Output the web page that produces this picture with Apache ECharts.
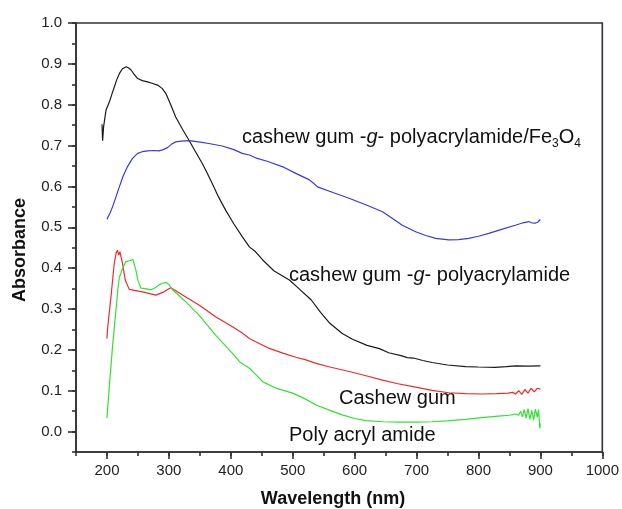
<!DOCTYPE html>
<html>
<head>
<meta charset="utf-8">
<script src="https://cdn.jsdelivr.net/npm/echarts@6/dist/echarts.min.js"></script>
<style>
  html, body { margin: 0; padding: 0; background: #fff; }
  #chart { width: 622px; height: 509px; }
</style>
</head>
<body>
<div id="chart"></div>
<script>
// UV-Vis absorbance spectra of four samples (wavelength in nm, absorbance)
const graftWl = [192, 193, 194.5, 198.5, 204, 208, 212, 216, 220, 225, 231, 235, 239, 244, 249.5, 257, 265.6, 274, 281.7, 289, 295, 303, 311, 322, 332.5, 343, 354, 362, 370, 380, 391.6, 405, 418.5, 430, 440, 451.6, 470, 494.6, 510, 530, 545, 560, 580, 596.5, 620, 640, 655, 675, 685, 688, 695, 710, 725, 750, 779, 800, 827, 845, 860, 880, 900];
const graftAbs = [0.752, 0.712, 0.745, 0.787, 0.807, 0.826, 0.844, 0.862, 0.876, 0.888, 0.893, 0.890, 0.885, 0.874, 0.864, 0.859, 0.856, 0.852, 0.848, 0.840, 0.828, 0.800, 0.770, 0.740, 0.713, 0.685, 0.656, 0.632, 0.607, 0.575, 0.542, 0.508, 0.477, 0.452, 0.440, 0.420, 0.393, 0.371, 0.350, 0.322, 0.292, 0.265, 0.240, 0.226, 0.211, 0.203, 0.193, 0.186, 0.181, 0.183, 0.180, 0.174, 0.169, 0.163, 0.159, 0.158, 0.157, 0.159, 0.161, 0.160, 0.161];

const ferriteWl = [200, 205, 209, 214, 220, 226, 233, 241, 249.5, 257, 265.6, 275, 284, 291, 297.8, 304, 311, 320, 332.5, 348, 364.7, 386, 405, 418.5, 430, 440, 460, 484, 505, 527, 535, 540, 565, 591, 620, 645, 660, 677, 698.6, 715, 730.8, 752, 768, 784, 800, 816.6, 840, 859.5, 872, 881, 886, 891.7, 896, 900];
const ferriteAbs = [0.520, 0.535, 0.550, 0.572, 0.599, 0.625, 0.648, 0.668, 0.681, 0.685, 0.687, 0.688, 0.687, 0.690, 0.695, 0.703, 0.709, 0.711, 0.712, 0.709, 0.705, 0.699, 0.690, 0.681, 0.677, 0.670, 0.661, 0.648, 0.632, 0.616, 0.606, 0.599, 0.585, 0.571, 0.554, 0.538, 0.523, 0.505, 0.489, 0.480, 0.473, 0.469, 0.470, 0.473, 0.478, 0.485, 0.496, 0.505, 0.511, 0.514, 0.511, 0.510, 0.513, 0.519];

const gumWl = [200, 201, 206.5, 211.8, 215, 217, 219, 221, 225, 229.5, 236, 257.5, 279, 292, 303, 312, 322, 348.6, 375.5, 402, 418.5, 430, 440, 460, 484, 505, 520, 537.6, 560, 591, 620, 645, 670, 698.6, 725, 752, 780, 805, 830, 848, 855, 860, 865, 870, 875, 880, 885, 890, 895, 900];
const gumAbs = [0.228, 0.253, 0.330, 0.412, 0.438, 0.444, 0.432, 0.440, 0.412, 0.371, 0.348, 0.342, 0.334, 0.342, 0.352, 0.344, 0.334, 0.310, 0.281, 0.257, 0.241, 0.228, 0.220, 0.205, 0.192, 0.182, 0.176, 0.167, 0.158, 0.147, 0.136, 0.126, 0.117, 0.109, 0.101, 0.095, 0.093, 0.092, 0.093, 0.094, 0.096, 0.092, 0.100, 0.091, 0.103, 0.094, 0.106, 0.097, 0.106, 0.104];

const pamWl = [200, 203.8, 209, 214.5, 218, 220, 222, 224, 227, 230.6, 236, 242, 244, 246.7, 250, 254.8, 262, 271, 278, 284, 290, 296, 300, 306, 315, 327, 348.6, 375.5, 390, 407.7, 414, 430, 440, 451.6, 457, 475, 500, 520, 537.6, 560, 580, 600, 618, 645, 672, 700, 725, 750, 779, 805, 832, 850, 860, 865, 868, 871, 874, 877, 880, 883, 886, 889, 892, 895, 897, 899, 900];
const pamAbs = [0.033, 0.110, 0.208, 0.298, 0.352, 0.379, 0.384, 0.395, 0.405, 0.416, 0.418, 0.421, 0.410, 0.395, 0.370, 0.351, 0.350, 0.347, 0.352, 0.359, 0.363, 0.365, 0.360, 0.347, 0.335, 0.318, 0.285, 0.236, 0.212, 0.183, 0.171, 0.155, 0.140, 0.122, 0.118, 0.105, 0.094, 0.080, 0.065, 0.052, 0.041, 0.032, 0.027, 0.024, 0.023, 0.023, 0.024, 0.026, 0.030, 0.034, 0.038, 0.040, 0.043, 0.040, 0.050, 0.036, 0.054, 0.033, 0.056, 0.030, 0.052, 0.028, 0.055, 0.035, 0.054, 0.008, 0.020];

// Axis tick labels
const xTickValues = [200, 300, 400, 500, 600, 700, 800, 900, 1000];
const yTickValues = [0, 0.1, 0.2, 0.3, 0.4, 0.5, 0.6, 0.7, 0.8, 0.9, 1.0];

const FONT = 'Liberation Sans, Arial, sans-serif';
const AXIS_COLOR = '#333';

function zip(xs, ys) { return xs.map((x, i) => [x, ys[i]]); }

function curve(name, xs, ys, color) {
  return {
    name, type: 'line', xAxisIndex: 0, yAxisIndex: 0,
    data: zip(xs, ys), showSymbol: false, symbol: 'none',
    lineStyle: { color, width: 1.2 }, itemStyle: { color },
    animation: false, silent: true
  };
}

const lineStyle = { color: AXIS_COLOR, width: 1.6 };
const labelStyle = { color: '#222', fontSize: 15, fontFamily: FONT };

const rich = {
  n: { fontSize: 20, fontFamily: FONT, lineHeight: 30, fill: '#111' },
  i: { fontSize: 20, fontFamily: FONT, fontStyle: 'italic', lineHeight: 30, fill: '#111' },
  s: { fontSize: 12, fontFamily: FONT, lineHeight: 14, padding: [14, 0, 0, 0], fill: '#111' }
};

function note(text, x, y) {
  return {
    type: 'text', x, y, silent: true,
    style: {
      text, rich, fill: '#111', fontSize: 20, fontFamily: FONT,
      align: 'left', verticalAlign: 'middle',
      textAlign: 'left', textVerticalAlign: 'middle'
    }
  };
}

const chart = echarts.init(document.getElementById('chart'), null, { renderer: 'canvas' });
chart.setOption({
  animation: false,
  backgroundColor: '#fff',
  grid: { left: 76, right: 18, top: 23, bottom: 57, show: true, borderColor: AXIS_COLOR, borderWidth: 1.6, backgroundColor: 'transparent' },
  xAxis: [
    {
      type: 'value', min: 150, max: 1000, interval: 50, position: 'bottom',
      axisLine: { show: true, onZero: false, lineStyle }, axisTick: { show: true, length: 4, lineStyle },
      axisLabel: { show: false }, splitLine: { show: false }
    },
    {
      type: 'value', min: 150, max: 1000, position: 'bottom',
      axisLine: { show: false, onZero: false },
      axisTick: { show: true, length: 7, lineStyle, customValues: xTickValues },
      axisLabel: Object.assign({ margin: 11, customValues: xTickValues, formatter: v => String(v) }, labelStyle),
      splitLine: { show: false }
    }
  ],
  yAxis: [
    {
      type: 'value', min: -0.05, max: 1.0, interval: 0.05, position: 'left',
      axisLine: { show: true, onZero: false, lineStyle }, axisTick: { show: true, length: 4, lineStyle },
      axisLabel: { show: false }, splitLine: { show: false }
    },
    {
      type: 'value', min: -0.05, max: 1.0, position: 'left',
      axisLine: { show: false, onZero: false },
      axisTick: { show: true, length: 8, lineStyle, customValues: yTickValues },
      axisLabel: Object.assign({ margin: 14, customValues: yTickValues, formatter: v => v.toFixed(1) }, labelStyle),
      splitLine: { show: false }
    }
  ],
  series: [
    curve('cashew gum-g-polyacrylamide', graftWl, graftAbs, '#1a1a1a'),
    curve('cashew gum-g-polyacrylamide/Fe3O4', ferriteWl, ferriteAbs, '#3a3ad8'),
    curve('Cashew gum', gumWl, gumAbs, '#ec2a2a'),
    curve('Poly acryl amide', pamWl, pamAbs, '#33e033')
  ],
  graphic: [
    {
      type: 'text', x: 20, y: 250, rotation: Math.PI / 2, silent: true,
      style: { text: 'Absorbance', fill: '#111', fontSize: 18, fontWeight: 'bold', fontFamily: FONT,
               align: 'center', verticalAlign: 'middle', textAlign: 'center', textVerticalAlign: 'middle' }
    },
    {
      type: 'text', x: 333, y: 499, silent: true,
      style: { text: 'Wavelength (nm)', fill: '#111', fontSize: 18, fontWeight: 'bold', fontFamily: FONT,
               align: 'center', verticalAlign: 'middle', textAlign: 'center', textVerticalAlign: 'middle' }
    },
    note('{n|cashew gum -}{i|g}{n|- polyacrylamide/Fe}{s|3}{n|O}{s|4}', 242, 137),
    note('{n|cashew gum -}{i|g}{n|- polyacrylamide}', 289, 275),
    note('{n|Cashew gum}', 339, 398),
    note('{n|Poly acryl amide}', 289, 435)
  ]
});
</script>
</body>
</html>
